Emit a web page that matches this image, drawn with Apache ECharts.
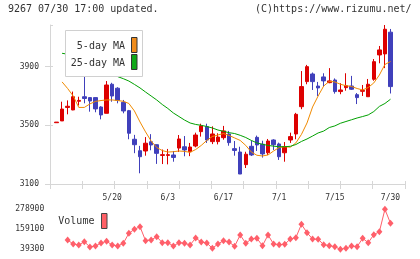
<!DOCTYPE html>
<html><head><meta charset="utf-8">
<script src="https://cdn.jsdelivr.net/npm/echarts@6/dist/echarts.min.js"></script>
<style>html,body{margin:0;padding:0;background:#fff}#c{width:420px;height:259px}</style>
</head><body><div id="c"></div>
<script>
const dates = ['5/2','5/7','5/8','5/9','5/12','5/13','5/14','5/15','5/16','5/19','5/20','5/21','5/22','5/23','5/26','5/27','5/28','5/29','5/30','6/2','6/3','6/4','6/5','6/6','6/9','6/10','6/11','6/12','6/13','6/16','6/17','6/18','6/19','6/20','6/23','6/24','6/25','6/26','6/27','6/30','7/1','7/2','7/3','7/4','7/7','7/8','7/9','7/10','7/11','7/14','7/15','7/16','7/17','7/18','7/22','7/23','7/24','7/25','7/28','7/29','7/30'];
const opens  = [3518,3530,3622,3605,3664,3695,3689,3689,3625,3582,3780,3753,3657,3600,3405,3327,3325,3388,3368,3295,3295,3298,3345,3354,3320,3359,3457,3491,3389,3389,3416,3441,3341,3318,3232,3357,3418,3371,3313,3400,3373,3313,3400,3441,3627,3798,3850,3768,3830,3791,3809,3730,3757,3768,3709,3732,3695,3814,3980,3987,4135];
const closes = [3522,3611,3630,3695,3670,3683,3666,3612,3571,3775,3700,3670,3598,3446,3368,3286,3378,3366,3309,3300,3300,3281,3407,3332,3352,3434,3496,3400,3441,3420,3462,3382,3329,3168,3303,3298,3366,3305,3393,3368,3286,3354,3423,3575,3764,3900,3798,3755,3803,3803,3730,3741,3770,3746,3689,3738,3780,3934,4014,4155,3764];
const lows   = [3518,3530,3575,3603,3635,3650,3593,3589,3541,3582,3661,3650,3582,3405,3310,3173,3293,3330,3237,3236,3234,3252,3318,3289,3290,3350,3423,3380,3372,3370,3402,3361,3293,3168,3209,3291,3325,3280,3298,3332,3264,3252,3380,3405,3610,3780,3741,3700,3764,3787,3716,3712,3736,3741,3645,3700,3695,3804,3923,3890,3717];
const highs  = [3522,3661,3670,3730,3695,3860,3689,3689,3630,3802,3790,3760,3673,3605,3435,3360,3420,3440,3370,3335,3339,3325,3434,3427,3380,3450,3511,3511,3493,3446,3496,3462,3393,3354,3320,3395,3430,3395,3407,3405,3382,3386,3450,3585,3870,3912,3860,3796,3855,3890,3820,3787,3855,3837,3720,3775,3816,3952,4041,4184,4157];
const ma5  = [null,3796,3751,3700,3622,3622,3646,3663,3669,3673,3673,3669,3664,3649,3598,3523,3455,3393,3349,3328,3318,3320,3325,3322,3316,3335,3363,3397,3424,3434,3444,3431,3414,3397,3363,3318,3296,3291,3298,3325,3349,3354,3351,3380,3438,3516,3625,3700,3768,3800,3796,3780,3770,3765,3751,3741,3758,3789,3843,3915,3935];
const ma25 = [null,3991,3985,3975,3962,3948,3934,3918,3900,3870,3850,3832,3818,3802,3779,3755,3727,3700,3673,3642,3615,3584,3560,3536,3516,3506,3500,3492,3482,3468,3459,3450,3444,3432,3417,3397,3380,3371,3363,3358,3354,3354,3357,3369,3390,3407,3427,3448,3461,3485,3496,3514,3526,3538,3550,3560,3571,3594,3629,3649,3678];
const volumes = [null,null,95000,71000,65100,84800,53100,59100,77000,87200,65100,59100,75200,135100,159100,174700,90800,95000,114800,78800,78800,59100,78800,75200,65100,107000,83000,77000,45300,71000,90800,83000,57300,125000,75200,101000,105200,60900,125000,71000,66900,69300,101000,108800,189100,138700,101000,99200,66900,60900,54900,39300,45300,59100,54900,105200,78800,126800,144700,278900,195000];
const priceAxis = {min: 3100, max: 4184, interval: 400};
const volAxis = {min: 39300, max: 278900, interval: 119800};
const labelEvery = 10;
const titleLeft = '9267 07/30 17:00 updated.';
const titleRight = '(C)https://www.rizumu.net/';

const FONT = 'DejaVu Sans Mono';
const AX = '#d6d6d6';
const TXT = '#333';
const plain = (v) => String(v);
const candles = dates.map((d, i) => [opens[i], closes[i], lows[i], highs[i]]);

const chart = echarts.init(document.getElementById('c'), null, {renderer: 'canvas'});
chart.setOption({
  animation: false,
  backgroundColor: '#fff',
  grid: [
    {left: 50, right: 15, top: 25, height: 159},
    {left: 56.5, right: 29.5, top: 25, height: 159},
    {left: 56.5, right: 29.5, top: 209.3, height: 40}
  ],
  xAxis: [
    {gridIndex: 0, type: 'value', position: 'bottom', min: 0, max: 11, interval: 1,
     axisLine: {show: true, onZero: false, lineStyle: {color: AX, width: 1}},
     axisTick: {show: true, length: 5, lineStyle: {color: AX}},
     axisLabel: {show: false}, splitLine: {show: false}},
    {gridIndex: 0, type: 'value', position: 'bottom', min: 0, max: 11, interval: 1,
     axisLine: {show: false, onZero: false},
     axisTick: {show: true, inside: true, length: 3, lineStyle: {color: AX}},
     axisLabel: {show: false}, splitLine: {show: false}},
    {gridIndex: 1, type: 'category', position: 'bottom', data: dates, boundaryGap: false,
     axisLine: {show: false, onZero: false}, axisTick: {show: false}, splitLine: {show: false},
     axisLabel: {interval: (i) => i % labelEvery === 0 && i > 0, fontFamily: FONT, fontSize: 8, color: TXT, margin: 10}},
    {gridIndex: 2, type: 'category', data: dates, boundaryGap: false, show: false}
  ],
  yAxis: [
    {gridIndex: 0, type: 'value', position: 'left', min: priceAxis.min, max: priceAxis.max, interval: priceAxis.interval,
     axisLine: {show: true, onZero: false, lineStyle: {color: AX}},
     axisTick: {show: true, length: 5, lineStyle: {color: AX}},
     axisLabel: {showMaxLabel: false, formatter: plain, fontFamily: FONT, fontSize: 8, color: TXT, margin: 11},
     splitLine: {show: false}},
    {gridIndex: 0, type: 'value', position: 'left', min: priceAxis.min, max: priceAxis.max, interval: priceAxis.interval,
     axisLine: {show: false}, axisTick: {show: true, inside: true, length: 3, lineStyle: {color: AX}},
     axisLabel: {show: false}, splitLine: {show: false}},
    {gridIndex: 1, type: 'value', min: priceAxis.min, max: priceAxis.max, show: false, splitLine: {show: false}},
    {gridIndex: 2, type: 'value', min: volAxis.min, max: volAxis.max, interval: volAxis.interval,
     axisLine: {show: false}, axisTick: {show: false}, splitLine: {show: false},
     axisLabel: {formatter: plain, fontFamily: FONT, fontSize: 8, color: TXT, margin: 12.3}}
  ],
  series: [
    {type: 'candlestick', xAxisIndex: 2, yAxisIndex: 2, data: candles, barWidth: 4, clip: false,
     itemStyle: {color: '#dd0000', color0: '#4040bb', borderColor: '#dd0000', borderColor0: '#4040bb', borderWidth: 1}},
    {type: 'line', xAxisIndex: 2, yAxisIndex: 2, data: ma5, symbol: 'none', showSymbol: false,
     lineStyle: {color: '#f08a00', width: 1}},
    {type: 'line', xAxisIndex: 2, yAxisIndex: 2, data: ma25, symbol: 'none', showSymbol: false,
     lineStyle: {color: '#00a000', width: 1}},
    {type: 'line', xAxisIndex: 3, yAxisIndex: 3, data: volumes, symbol: 'diamond', symbolSize: [6, 7],
     showSymbol: true, showAllSymbol: true,
     itemStyle: {color: '#ff5f6a'}, lineStyle: {color: '#ff5f6a', width: 1}}
  ],
  graphic: [
    {type: 'text', left: 8, top: 4, z: 100, style: {text: titleLeft, font: '10px "DejaVu Sans Mono"', fill: TXT}},
    {type: 'text', left: 255, top: 4, z: 100, style: {text: titleRight, font: '10px "DejaVu Sans Mono"', fill: TXT}},
    {type: 'rect', z: 100, shape: {x: 65.5, y: 30.5, width: 77, height: 46}, style: {fill: '#fff', stroke: '#d0d0d0', lineWidth: 1}},
    {type: 'text', z: 101, x: 125, y: 46, style: {text: '5-day MA', font: '10px "DejaVu Sans Mono"', fill: TXT, align: 'right', verticalAlign: 'middle'}},
    {type: 'text', z: 101, x: 125, y: 63, style: {text: '25-day MA', font: '10px "DejaVu Sans Mono"', fill: TXT, align: 'right', verticalAlign: 'middle'}},
    {type: 'rect', z: 101, shape: {x: 131.5, y: 37.5, width: 5.5, height: 15}, style: {fill: '#f08c1c', stroke: '#333', lineWidth: 1}},
    {type: 'rect', z: 101, shape: {x: 131.5, y: 54.5, width: 5.5, height: 15}, style: {fill: '#10a818', stroke: '#333', lineWidth: 1}},
    {type: 'text', z: 101, x: 58.3, y: 221.5, style: {text: 'Volume', font: '10px "DejaVu Sans Mono"', fill: TXT, align: 'left', verticalAlign: 'middle'}},
    {type: 'rect', z: 101, shape: {x: 101.5, y: 213.5, width: 5.5, height: 15}, style: {fill: '#ff6066', stroke: '#444', lineWidth: 1}}
  ]
});
</script>
</body></html>
